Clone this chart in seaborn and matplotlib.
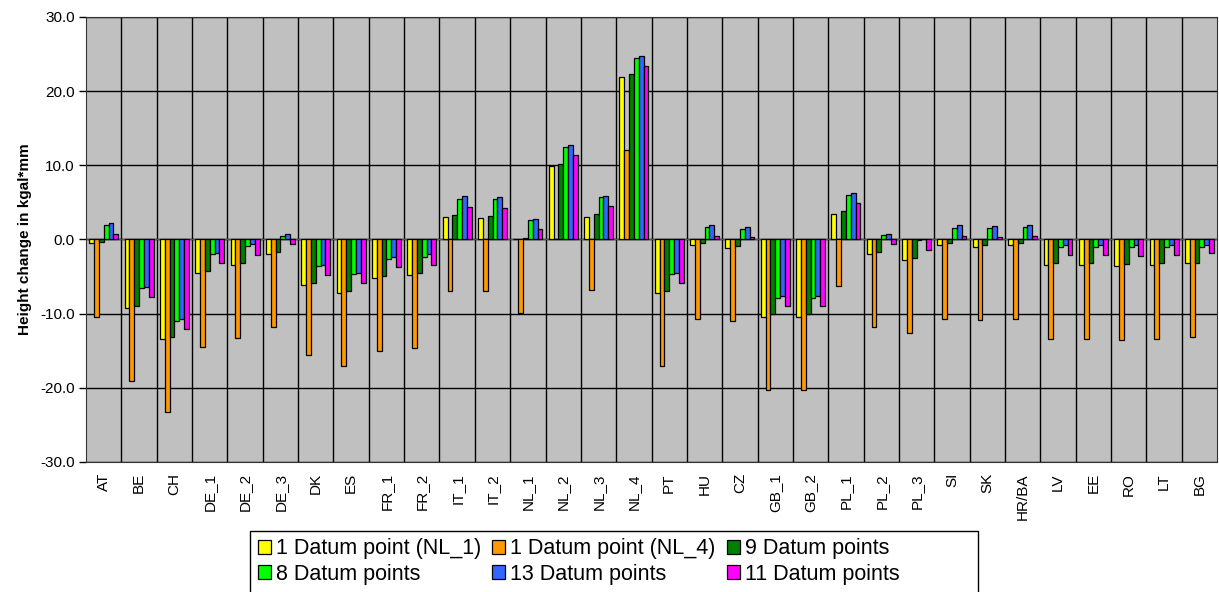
import pandas as pd
import seaborn as sns
import matplotlib.pyplot as plt
from matplotlib.patches import Rectangle

# data
regions = ["AT", "BE", "CH", "DE_1", "DE_2", "DE_3", "DK", "ES", "FR_1", "FR_2",
           "IT_1", "IT_2", "NL_1", "NL_2", "NL_3", "NL_4", "PT", "HU", "CZ", "GB_1",
           "GB_2", "PL_1", "PL_2", "PL_3", "SI", "SK", "HR/BA", "LV", "EE", "RO", "LT", "BG"]

nl1 = [-0.5, -9.2, -13.4, -4.5, -3.4, -2.0, -6.2, -7.2, -5.2, -4.8,
       3.0, 2.9, 0.0, 9.9, 3.1, 21.9, -7.2, -0.8, -1.1, -10.4,
       -10.4, 3.5, -1.9, -2.7, -0.8, -1.0, -0.8, -3.5, -3.5, -3.6, -3.5, -3.2]
nl4 = [-10.5, -19.1, -23.3, -14.5, -13.3, -11.8, -15.6, -17.1, -15.0, -14.6,
       -6.9, -6.9, -9.9, 0.0, -6.8, 12.0, -17.1, -10.7, -11.0, -20.3,
       -20.3, -6.3, -11.8, -12.6, -10.7, -10.9, -10.7, -13.4, -13.4, -13.5, -13.4, -13.2]
pts9 = [-0.3, -8.9, -13.1, -4.2, -3.2, -1.7, -5.9, -6.9, -4.9, -4.5,
        3.3, 3.2, 0.2, 10.2, 3.4, 22.3, -6.9, -0.5, -0.9, -10.1,
        -10.1, 3.8, -1.7, -2.5, -0.5, -0.7, -0.5, -3.2, -3.2, -3.3, -3.2, -3.2]
pts8 = [1.9, -6.6, -11.0, -2.0, -0.9, 0.5, -3.6, -4.7, -2.6, -2.3,
        5.5, 5.5, 2.6, 12.5, 5.7, 24.5, -4.7, 1.7, 1.4, -7.9,
        -7.9, 6.0, 0.6, -0.1, 1.6, 1.5, 1.7, -1.0, -1.0, -1.0, -1.0, -1.0]
pts13 = [2.2, -6.4, -10.7, -1.8, -0.6, 0.8, -3.4, -4.5, -2.3, -2.0,
         5.8, 5.7, 2.8, 12.7, 5.9, 24.8, -4.5, 2.0, 1.7, -7.6,
         -7.6, 6.3, 0.8, 0.1, 1.9, 1.8, 1.9, -0.7, -0.7, -0.8, -0.7, -0.7]
pts11 = [0.8, -7.8, -12.1, -3.2, -2.1, -0.6, -4.8, -5.8, -3.7, -3.4,
         4.4, 4.3, 1.4, 11.4, 4.5, 23.4, -5.9, 0.5, 0.3, -9.0,
         -9.0, 4.9, -0.6, -1.4, 0.5, 0.4, 0.5, -2.1, -2.1, -2.2, -2.1, -1.8]

series = {"1 Datum point (NL_1)": nl1,
          "1 Datum point (NL_4)": nl4,
          "9 Datum points": pts9,
          "8 Datum points": pts8,
          "13 Datum points": pts13,
          "11 Datum points": pts11}
colors = ["#FFFF00", "#FF9900", "#008000", "#00FF00", "#3366FF", "#FF00FF"]

df_list = []
for name, vals in series.items():
    df_list.append(pd.DataFrame({"region": regions, "value": vals, "series": name}))
df = pd.concat(df_list)

plt.rcParams["font.family"] = ["Liberation Sans", "DejaVu Sans"]
fig = plt.figure(figsize=(12.19, 5.92), dpi=100)
ax = fig.add_axes([0.0706, 0.2196, 0.9278, 0.7517])
ax.set_facecolor("#C0C0C0")

sns.barplot(data=df, x="region", y="value", hue="series", palette=colors,
            saturation=1, width=0.82, edgecolor="black", linewidth=0.9,
            ax=ax, zorder=3)

ax.set_ylim(-30, 30)
ax.set_xlim(-0.5, len(regions) - 0.5)
ax.set_yticks(range(-30, 31, 10))
ax.set_yticklabels([f"{v:.1f}" for v in range(-30, 31, 10)], fontsize=11)
ax.tick_params(axis="y", length=5, width=1, pad=3)
ax.set_xticks(range(len(regions)))
ax.set_xticklabels(regions, rotation=90, fontsize=11)
ax.tick_params(axis="x", length=0, pad=8)
ax.set_xticks([i - 0.5 for i in range(1, len(regions))], minor=True)
ax.tick_params(axis="x", which="minor", length=0)
ax.grid(axis="y", which="major", color="black", linewidth=1, zorder=0)
ax.grid(axis="x", which="minor", color="black", linewidth=1, zorder=0)
ax.axhline(0, color="#555555", linewidth=1, zorder=2)
ax.set_xlabel("")
ax.set_ylabel("Height change in kgal*mm", fontsize=11, fontweight="bold", labelpad=6)
for s in ax.spines.values():
    s.set_color("#333333")

handles, labels = ax.get_legend_handles_labels()
ax.get_legend().remove()
order = [0, 3, 1, 4, 2, 5]
fig.legend([handles[i] for i in order], [labels[i] for i in order],
           ncol=3, loc="upper left", bbox_to_anchor=(0.208, 1 - 534 / 592),
           fontsize=15.5, frameon=False, handlelength=0.6, handleheight=0.6,
           handletextpad=0.25, columnspacing=0.5, labelspacing=0.2,
           borderpad=0.2, borderaxespad=0)
# legend box runs past the bottom edge of the figure, as in the original
fig.patches.append(Rectangle((250 / 1219, -0.05), 728 / 1219, 0.05 + 61 / 592,
                             transform=fig.transFigure, fill=False,
                             edgecolor="black", linewidth=1))

fig.savefig("out.png", dpi=100, facecolor="white")
